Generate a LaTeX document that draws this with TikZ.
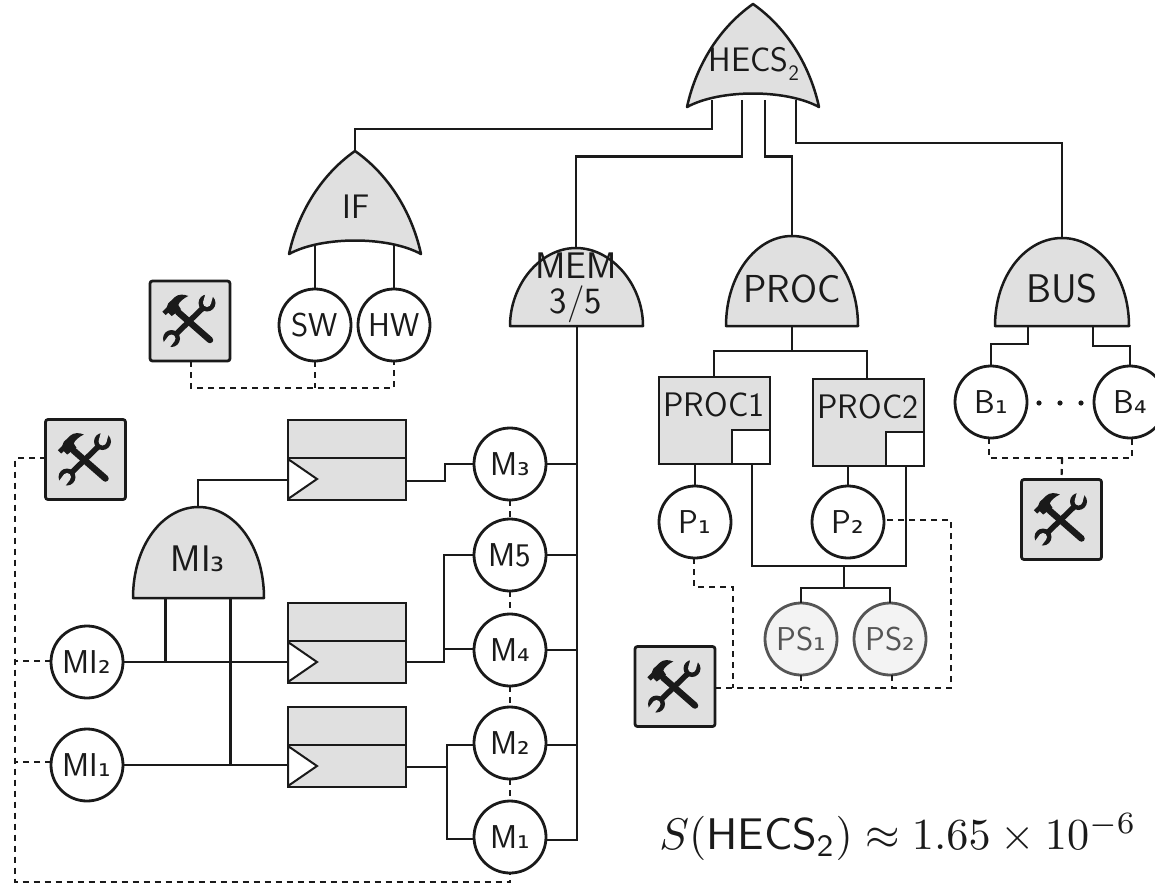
\documentclass[tikz,border=0pt]{standalone}
\usepackage{fontspec}
\usepackage{graphicx}
\usetikzlibrary{calc}
\newfontfamily\subf{DejaVu Sans}
\newcommand{\sbd}[1]{\raisebox{0em}{\subf\scalebox{0.95}{#1}}}
\definecolor{gatefill}{HTML}{E0E0E0}
\definecolor{inkc}{HTML}{1A1A1A}
\definecolor{psc}{HTML}{555555}
\definecolor{psf}{HTML}{F3F3F3}
\tikzset{
  wire/.style={line width=2.2pt,draw=inkc},
  dashwire/.style={line width=2.2pt,draw=inkc,dash pattern=on 6pt off 5pt},
  gate/.style={line width=2.5pt,draw=inkc,fill=gatefill,line join=round},
  lbl/.style={inner sep=0pt,text=inkc,font=\sffamily\fontsize{#1}{#1}\selectfont},
  basic/.style={circle,draw=inkc,fill=white,line width=2.8pt,minimum size=72pt,inner sep=0pt,outer sep=0pt,text=inkc,font=\sffamily\fontsize{#1}{#1}\selectfont},
  psbasic/.style={basic=#1,draw=psc,fill=psf,text=psc},
  toolbox/.style={rectangle,rounded corners=2.5pt,draw=inkc,fill=gatefill,line width=2.8pt,minimum width=80pt,minimum height=80pt,inner sep=0pt,outer sep=0pt},
  sparebox/.style={rectangle,draw=inkc,fill=gatefill,line width=2.5pt,minimum width=118pt,minimum height=80pt,inner sep=0pt,outer sep=0pt},
  whitebox/.style={rectangle,draw=inkc,fill=white,line width=2.5pt,inner sep=0pt,outer sep=0pt},
  procbox/.style={rectangle,draw=inkc,fill=gatefill,line width=2.5pt,minimum width=111pt,minimum height=87pt,inner sep=0pt,outer sep=0pt},
  trig/.style={draw=inkc,fill=white,line width=2pt,line join=miter},
  tools/.pic={
    \draw[inkc,line width=6.5pt,line cap=round] (-12,-9) -- (20,19);
    \fill[inkc] (-27.7,-9.3) -- (-24.3,-6) -- (-21.7,-8.3) -- (-18.3,-5) -- (-9,-11.7) -- (-11.7,-16) .. controls (-11,-19) and (-6,-23) .. (-1.7,-25) .. controls (-6,-27) and (-12,-27) .. (-15,-24) -- (-21.7,-17.7) -- (-23.3,-13.7) -- cycle;
    \draw[inkc,line width=5.5pt] (-18,17) -- (16,-16);
    \fill[inkc] (17,-18) circle[radius=8.5pt];
    \fill[inkc] (-18.5,17.5) circle[radius=8.5pt];
    \fill[gatefill] (17,-18) circle[radius=4pt];
    \fill[gatefill] (-18.5,17.5) circle[radius=4pt];
    \fill[gatefill] (20.8,-16.9) -- (13.2,-19.1) -- (16.4,-30.6) -- (24,-28.4) -- cycle;
    \fill[gatefill] (-15.3,19.9) -- (-21.7,15.1) -- (-28.9,24.7) -- (-22.5,29.5) -- cycle;
  }
}
\begin{document}
\begin{tikzpicture}[x=1pt,y=-1pt]
\useasboundingbox (0,0) rectangle (1155,883);
% named ports
\coordinate (hecsA) at (712,100);
\coordinate (hecsB) at (742,100);
\coordinate (hecsC) at (765,100);
\coordinate (hecsD) at (796,100);
\coordinate (ifTop) at (355,160);
\coordinate (ifL) at (315,245);
\coordinate (ifR) at (394,245);
\coordinate (memTop) at (576,255);
\coordinate (memBot) at (577,320);
\coordinate (procTop) at (792,245);
\coordinate (procBot) at (792,320);
\coordinate (busTop) at (1062,245);
\coordinate (busL) at (1028,320);
\coordinate (busR) at (1093,320);
\coordinate (miTop) at (198,515);
\coordinate (miL) at (165.5,590);
\coordinate (miR) at (230.5,590);
% basic events
\node[basic=33] (sw) at (315,325) {SW};
\node[basic=33] (hw) at (394,325) {HW};
\node[basic=33] (m3) at (510,464) {M\sbd{₃}};
\node[basic=33] (m5) at (510,555) {M5};
\node[basic=33] (m4) at (510,650) {M\sbd{₄}};
\node[basic=33] (m2) at (510,743) {M\sbd{₂}};
\node[basic=33] (m1) at (510,837) {M\sbd{₁}};
\node[basic=33] (mi2) at (87,662) {MI\sbd{₂}};
\node[basic=33] (mi1) at (87,765) {MI\sbd{₁}};
\node[basic=33] (p1) at (695,522) {P\sbd{₁}};
\node[basic=33] (p2) at (848,522) {P\sbd{₂}};
\node[psbasic=33] (ps1) at (801,639) {PS\sbd{₁}};
\node[psbasic=33] (ps2) at (890,639) {PS\sbd{₂}};
\node[basic=33] (b1) at (991,402) {B\sbd{₁}};
\node[basic=33] (b4) at (1130,402) {B\sbd{₄}};
% tool boxes
\node[toolbox] (t1) at (190,321) {};
\node[toolbox] (t4) at (85.5,459.5) {};
\node[toolbox] (t3) at (675,686.5) {};
\node[toolbox] (t2) at (1061.5,519.5) {};
\pic at (t1) {tools};
\pic at (t4) {tools};
\pic at (t3) {tools};
\pic at (t2) {tools};
% spares
\node[sparebox] (r1) at (347,460) {};
\node[sparebox] (r2) at (347,643) {};
\node[sparebox] (r3) at (347,747) {};
\foreach \r in {r1,r2,r3}{
  \draw[line width=2.2pt,draw=inkc] ($(\r.west)+(0,-2)$) -- ($(\r.east)+(0,-2)$);
  \draw[trig] ($(\r.west)+(0,-1)$) -- ($(\r.west)+(29,19)$) -- ($(\r.west)+(0,39)$) -- cycle;
}
% processor boxes
\node[procbox] (proc1) at (714.5,420.5) {};
\node[procbox] (proc2) at (868.5,422.5) {};
\node[whitebox,minimum width=38pt,minimum height=34pt,anchor=south east] (ws1) at (proc1.south east) {};
\node[whitebox,minimum width=38pt,minimum height=34pt,anchor=south east] (ws2) at (proc2.south east) {};
\node[lbl=34] (proc1t) at (714,405) {PROC1};
\node[lbl=34] (proc2t) at (868,407) {PROC2};
% solid connectors
\draw[wire] (hecsA) -- (712,129) -- (355,129) -- (ifTop);
\draw[wire] (hecsB) -- (742,156.5) -- (576,156.5) -- (memTop);
\draw[wire] (hecsC) -- (765,156.5) -- (792,156.5) -- (procTop);
\draw[wire] (hecsD) -- (796,143) -- (1062,143) -- (busTop);
\draw[wire] (ifL) -- (sw.north);
\draw[wire] (ifR) -- (hw.north);
\draw[wire] (procBot) -- (792,351);
\draw[wire] (714,377) -- (714,351) -- (867,351) -- (867,379);
\draw[wire] (busL) -- (1028,344) -- (991,344) -- (b1.north);
\draw[wire] (busR) -- (1093,346) -- (1130,346) -- (b4.north);
\draw[wire] (memBot) -- (577,840) -- (m1.east |- 0,840);
\draw[wire] (m3.east) -- (577,464);
\draw[wire] (m5.east) -- (577,555);
\draw[wire] (m4.east) -- (577,650);
\draw[wire] (m2.east |- 0,745) -- (577,745);
\draw[wire] (proc1.south -| p1) -- (p1.north);
\draw[wire] (proc2.south -| p2) -- (p2.north);
\draw[wire] (752,464) -- (752,566) -- (906,566) -- (906,466);
\draw[wire] (844,566) -- (844,588);
\draw[wire] (ps1.north) -- (801,588) -- (890,588) -- (ps2.north);
\draw[wire] (miTop) -- (198,480) -- (288,480);
\draw[wire] (mi2.east) -- (288,662);
\draw[wire] (mi1.east) -- (288,765);
\draw[wire] (miL) -- (165.5,662);
\draw[wire] (miR) -- (230.5,765);
\draw[wire] (406,481) -- (445,481) -- (445,464) -- (m3.west);
\draw[wire] (406,662) -- (444,662) -- (444,555) -- (m5.west);
\draw[wire] (444,649) -- (m4.west |- 0,649);
\draw[wire] (406,767) -- (447,767);
\draw[wire] (m2.west |- 0,745) -- (447,745) -- (447,839) -- (m1.west |- 0,839);
% gates
\path[gate] (753,4) .. controls (716,30) and (695,70) .. (687,107) .. controls (720,89) and (786,89) .. (819,107) .. controls (811,70) and (790,30) .. (753,4) -- cycle;
\path[gate] (355,151) .. controls (318,177) and (297,217) .. (289,254) .. controls (322,236) and (388,236) .. (421,254) .. controls (413,217) and (392,177) .. (355,151) -- cycle;
\path[gate] (510,326) .. controls (510,285) and (540,248) .. (576,248) .. controls (612,248) and (643,285) .. (643,326) -- cycle;
\path[gate] (726,326) .. controls (726,275) and (756,236) .. (792,236) .. controls (828,236) and (858,275) .. (858,326) -- cycle;
\path[gate] (995,326) .. controls (995,275) and (1026,238) .. (1062,238) .. controls (1098,238) and (1129,275) .. (1129,326) -- cycle;
\path[gate] (133,598) .. controls (133,545) and (163,507) .. (198.5,507) .. controls (234,507) and (264,545) .. (264,598) -- cycle;
\node[lbl=34] (hecs) at (754,64) {HECS\raisebox{-0.25em}{\fontsize{22}{22}\selectfont 2}};
\node[lbl=34] (iflbl) at (356,207) {IF};
\node[lbl=37,align=center] (mem) at (576,288) {MEM\\[-2pt]3/5};
\node[lbl=39] (proc) at (792,289) {PROC};
\node[lbl=40] (bus) at (1062,289) {BUS};
\node[lbl=37] (mi3) at (198,559) {MI\sbd{₃}};
% dots
\foreach \x in {1039,1060,1081}{\fill[inkc] (\x,403) circle[radius=2.6pt];}
% dashed connectors
\draw[dashwire] (t1.south -| 191,0) -- (191,388) -- (394,388) -- (hw.south);
\draw[dashwire] (sw.south) -- (315,388);
\draw[dashwire] (m3.south) -- (m5.north);
\draw[dashwire] (m5.south) -- (m4.north);
\draw[dashwire] (m4.south) -- (m2.north);
\draw[dashwire] (m2.south) -- (m1.north);
\draw[dashwire] (t4.west |- 0,458) -- (15,458) -- (15,882) -- (510,882) -- (m1.south);
\draw[dashwire] (mi2.west |- 0,661) -- (15,661);
\draw[dashwire] (mi1.west |- 0,762) -- (15,762);
\draw[dashwire] (p1.south -| 694,0) -- (694,587) -- (733,587) -- (733,688);
\draw[dashwire] (t3.east |- 0,688) -- (951,688) -- (951,520) -- (p2.east |- 0,520);
\draw[dashwire] (ps1.south) -- (801,688);
\draw[dashwire] (892,675) -- (892,688);
\draw[dashwire] (b1.south -| 989,0) -- (989,458) -- (1132,458) -- (b4.south -| 1132,0);
\draw[dashwire] (1062,458) -- (t2.north);
% measure
\node[inner sep=0pt,scale=4.43,text=inkc] (eq) at (898,837) {$S(\textsf{HECS}_{\mathsf{2}})\approx 1.65\times 10^{-6}$};
\end{tikzpicture}
\end{document}
